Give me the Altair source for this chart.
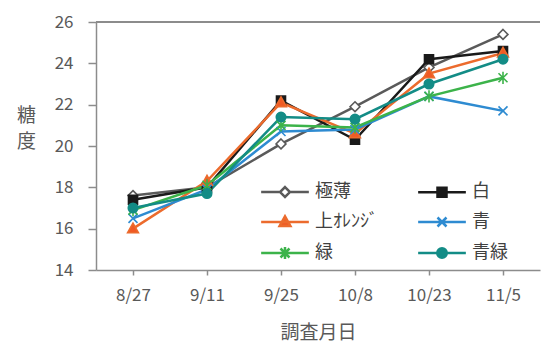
import altair as alt
import pandas as pd

dates = ["8/27", "9/11", "9/25", "10/8", "10/23", "11/5"]
series_names = ["極薄", "白", "上ｵﾚﾝｼﾞ", "青", "緑", "青緑"]
v_gokuhaku = [17.6, 18.0, 20.1, 21.9, 23.8, 25.4]
v_shiro = [17.4, 18.0, 22.2, 20.3, 24.2, 24.6]
v_orange = [16.0, 18.3, 22.1, 20.6, 23.5, 24.5]
v_ao = [16.5, 17.9, 20.7, 20.8, 22.4, 21.7]
v_midori = [16.9, 18.1, 21.0, 20.9, 22.4, 23.3]
v_aomidori = [17.0, 17.7, 21.4, 21.3, 23.0, 24.2]
all_values = [v_gokuhaku, v_shiro, v_orange, v_ao, v_midori, v_aomidori]

stroke_colors = ["#5a5a5a", "#1a1a1a", "#EC6B2D", "#2E8BD1", "#3CB34A", "#138C86"]
fill_colors = ["#ffffff", "#1a1a1a", "#F05A24", "#2E8BD1", "#3CB34A", "#138C86"]

m_diamond = "M0,-1.1L1.1,0L0,1.1L-1.1,0Z"
m_square = "M-1,-1H1V1H-1Z"
m_tri = "M0,-1.25L1.2,0.9H-1.2Z"
m_x = "M-1,-1L1,1M-1,1L1,-1"
m_ast = "M-1,-1L1,1M-1,1L1,-1M0,-1.35V1.35"
m_circle = "M1.05,0A1.05,1.05 0 1,1 -1.05,0A1.05,1.05 0 1,1 1.05,0Z"
marker_paths = [m_diamond, m_square, m_tri, m_x, m_ast, m_circle]
legend_paths = ["M-5.3,0H-1.1M1.1,0H5.3" + m_diamond] + ["M-5.3,0H5.3" + p for p in marker_paths[1:]]

rows = []
for name, vals in zip(series_names, all_values):
    for d, v in zip(dates, vals):
        rows.append({"series": name, "date": d, "value": v})
df = pd.DataFrame(rows)

FONT = "Noto Sans CJK JP"

x_enc = alt.X("date:N", sort=dates, title="調査月日",
              axis=alt.Axis(labelAngle=0, tickSize=5, labelPadding=12, titlePadding=20,
                            titleFontSize=19, titleFontWeight="normal", titleColor="#595959"))
y_enc = alt.Y("value:Q", scale=alt.Scale(domain=[14, 26], nice=False, zero=False),
              axis=alt.Axis(values=[14, 16, 18, 20, 22, 24, 26], tickSize=8, labelPadding=15,
                            title=["糖", "度"], titleAngle=0, titleAlign="center",
                            titleBaseline="top", titleX=-70, titleY=84, titleLineHeight=26,
                            titleFontSize=19, titleFontWeight="normal", titleColor="#595959"))

stroke_scale = alt.Scale(domain=series_names, range=stroke_colors)
fill_scale = alt.Scale(domain=series_names, range=fill_colors)

top_rule = alt.Chart(df).mark_rule(color="#8c8c8c", strokeWidth=1.5).encode(y=alt.datum(26))

lines = alt.Chart(df).mark_line(strokeWidth=2.5).encode(
    x=x_enc, y=y_enc,
    stroke=alt.Stroke("series:N", scale=stroke_scale, legend=None),
)

points = alt.Chart(df).mark_point(size=81, strokeWidth=1.6, opacity=1).encode(
    x=x_enc, y=y_enc,
    stroke=alt.Stroke("series:N", scale=stroke_scale, legend=None),
    fill=alt.Fill("series:N", scale=fill_scale, legend=None),
    shape=alt.Shape("series:N", scale=alt.Scale(domain=series_names, range=marker_paths), legend=None),
)

legend_layer = alt.Chart(df).transform_filter("false").mark_point(size=81, opacity=1).encode(
    shape=alt.Shape("series:N", scale=alt.Scale(domain=series_names, range=legend_paths),
                    legend=alt.Legend(orient="none", direction="horizontal", legendX=180, legendY=161,
                                      columns=2, title=None, symbolSize=81, symbolStrokeWidth=2.5,
                                      labelFontSize=18, labelColor="#404040", labelFont=FONT,
                                      labelOffset=21, rowPadding=9, columnPadding=35,
                                      padding=0, symbolOpacity=1)),
    stroke=alt.Stroke("series:N", scale=stroke_scale),
    fill=alt.Fill("series:N", scale=fill_scale),
)

chart = alt.layer(top_rule, lines, points, legend_layer).resolve_scale(
    stroke="independent", fill="independent", shape="independent"
).properties(
    width=444, height=248,
    padding={"left": 96, "top": 22, "right": 2, "bottom": 72},
    autosize=alt.AutoSizeParams(type="none"),
    background="white",
).configure_view(stroke=None).configure_axis(
    domainColor="#8c8c8c", tickColor="#8c8c8c", domainWidth=1.5, tickWidth=1.5,
    labelFontSize=17, labelColor="#595959", labelFont=FONT, titleFont=FONT, grid=False,
)

chart.save("out.html", embed_options={"renderer": "svg", "actions": False})
